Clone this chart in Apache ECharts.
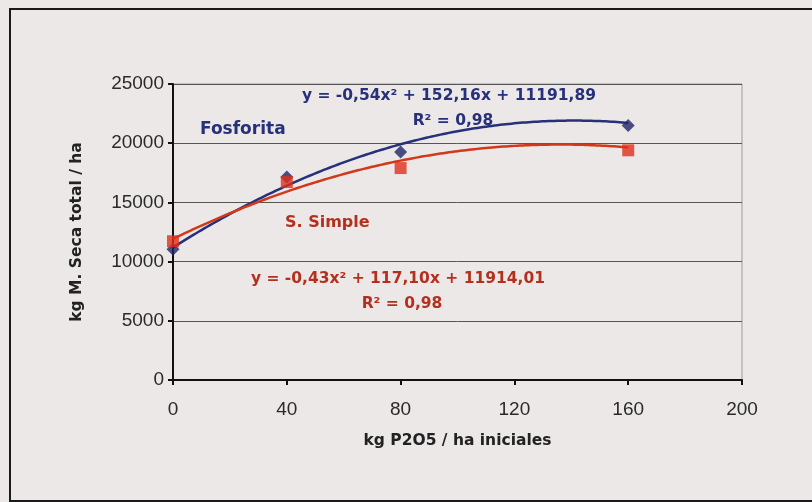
<!DOCTYPE html>
<html>
<head>
<meta charset="utf-8">
<script src="https://cdn.jsdelivr.net/npm/echarts@6/dist/echarts.min.js"></script>
<style>
  html, body { margin: 0; padding: 0; background: #ece8e8; }
  #chart { width: 812px; height: 502px; }
</style>
</head>
<body>
<div id="chart"></div>
<script>
// Dose of P2O5 applied (kg/ha) and dry matter yield (kg/ha)
const doses = [0, 40, 80, 160];
const fosforita = [11050, 17150, 19250, 21500];
const simple = [11720, 16720, 17900, 19400];

// Polynomial trend coefficients [a, b, c] for y = a·x² + b·x + c
const fosforitaFit = [-0.54, 152.16, 11191.89];
const simpleFit = [-0.43, 117.10, 11914.01];

const xTicks = [0, 40, 80, 120, 160, 200];
const yTicks = [0, 5000, 10000, 15000, 20000, 25000];

const navy = '#27307a';
const red = '#d2381a';
const redText = '#b4301e';

function trend(coef) {
  const pts = [];
  for (let x = 0; x <= 160; x += 2) {
    pts.push([x, coef[0] * x * x + coef[1] * x + coef[2]]);
  }
  return pts;
}

const chart = echarts.init(document.getElementById('chart'));
const font = '"DejaVu Sans", "Liberation Sans", Arial, sans-serif';
const tickFont = '"Liberation Sans", Arial, sans-serif';

chart.setOption({
  backgroundColor: '#ece8e8',
  animation: false,
  grid: {
    left: 173, right: 70, top: 84, bottom: 122,
    show: true, borderColor: '#9a9a9a', borderWidth: 1, backgroundColor: 'transparent'
  },
  xAxis: {
    type: 'value',
    min: xTicks[0], max: xTicks[xTicks.length - 1], interval: 40,
    name: 'kg P2O5 / ha iniciales',
    nameLocation: 'middle', nameGap: 53,
    nameTextStyle: { fontFamily: font, fontWeight: 'bold', fontSize: 15.5, color: '#222' },
    axisLine: { onZero: false, lineStyle: { color: '#111', width: 2 } },
    axisTick: { show: true, length: 5, lineStyle: { color: '#111', width: 2 } },
    axisLabel: { fontFamily: tickFont, fontSize: 19, color: '#2a2a2a', margin: 20 },
    splitLine: { show: false }
  },
  yAxis: {
    type: 'value',
    min: yTicks[0], max: yTicks[yTicks.length - 1], interval: 5000,
    name: 'kg M. Seca total / ha',
    nameLocation: 'middle', nameGap: 88,
    nameTextStyle: { fontFamily: font, fontWeight: 'bold', fontSize: 15.5, color: '#222' },
    axisLine: { show: true, lineStyle: { color: '#111', width: 2 } },
    axisTick: { show: true, length: 5, lineStyle: { color: '#111', width: 2 } },
    axisLabel: { fontFamily: tickFont, fontSize: 19, color: '#2a2a2a', margin: 9, formatter: v => String(v) },
    splitLine: { show: true, lineStyle: { color: '#555', width: 1 } }
  },
  series: [
    {
      name: 'Fosforita (tendencia)',
      type: 'line', data: trend(fosforitaFit), showSymbol: false, smooth: true,
      lineStyle: { color: navy, width: 2.5 }, z: 3
    },
    {
      name: 'S. Simple (tendencia)',
      type: 'line', data: trend(simpleFit), showSymbol: false, smooth: true,
      lineStyle: { color: red, width: 2.5 }, z: 3
    },
    {
      name: 'Fosforita',
      type: 'scatter', data: doses.map((d, i) => [d, fosforita[i]]),
      symbol: 'diamond', symbolSize: 13, itemStyle: { color: '#1e2466' }, z: 4
    },
    {
      name: 'S. Simple',
      type: 'scatter', data: doses.map((d, i) => [d, simple[i]]),
      symbol: 'rect', symbolSize: 12, itemStyle: { color: '#e0301a' }, z: 5
    }
  ],
  graphic: [
    {
      type: 'rect', left: 9, top: 8, z: -1, silent: true,
      shape: { width: 820, height: 492 },
      style: { fill: 'transparent', stroke: '#1a1a1a', lineWidth: 2 }
    },
    {
      type: 'text', x: 449, y: 96, z: 10,
      style: { text: 'y = -0,54x² + 152,16x + 11191,89', fill: navy, font: 'bold 15.5px ' + font, align: 'center', verticalAlign: 'middle' }
    },
    {
      type: 'text', x: 453, y: 121, z: 10,
      style: { text: 'R² = 0,98', fill: navy, font: 'bold 15.5px ' + font, align: 'center', verticalAlign: 'middle' }
    },
    {
      type: 'text', x: 200, y: 130, z: 10,
      style: { text: 'Fosforita', fill: navy, font: 'bold 17px ' + font, align: 'left', verticalAlign: 'middle' }
    },
    {
      type: 'text', x: 285, y: 223, z: 10,
      style: { text: 'S. Simple', fill: redText, font: 'bold 16px ' + font, align: 'left', verticalAlign: 'middle' }
    },
    {
      type: 'text', x: 398, y: 279, z: 10,
      style: { text: 'y = -0,43x² + 117,10x + 11914,01', fill: redText, font: 'bold 15.5px ' + font, align: 'center', verticalAlign: 'middle' }
    },
    {
      type: 'text', x: 402, y: 304, z: 10,
      style: { text: 'R² = 0,98', fill: redText, font: 'bold 15.5px ' + font, align: 'center', verticalAlign: 'middle' }
    }
  ]
});
</script>
</body>
</html>
